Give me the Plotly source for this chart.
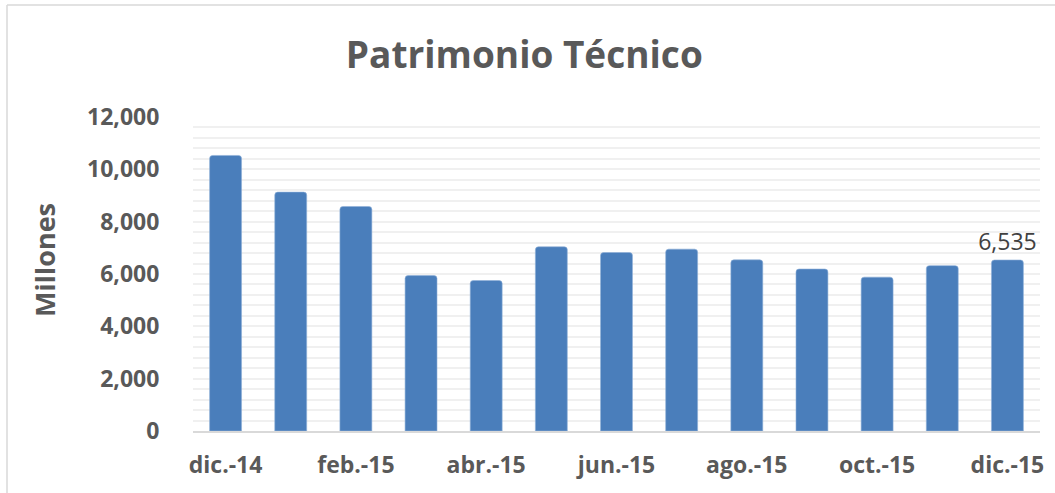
import plotly.graph_objects as go

# Patrimonio Técnico, millones
meses = ["dic.-14", "ene.-15", "feb.-15", "mar.-15", "abr.-15", "may.-15", "jun.-15",
         "jul.-15", "ago.-15", "sep.-15", "oct.-15", "nov.-15", "dic.-15"]
patrimonio = [10530, 9130, 8580, 5940, 5750, 7040, 6820, 6950, 6540, 6190, 5880, 6320, 6535]
meses_visibles = ["dic.-14", "feb.-15", "abr.-15", "jun.-15", "ago.-15", "oct.-15", "dic.-15"]
y_ticks = [0, 2000, 4000, 6000, 8000, 10000, 12000]

gris = "#595959"
fuente = "Open Sans"

W, H = 1055, 493
m_l, m_r, m_t, m_b = 193, 15, 117, 62

etiquetas = [""] * (len(patrimonio) - 1) + [f"{patrimonio[-1]:,}"]

fig = go.Figure()
fig.add_trace(go.Bar(
    x=meses,
    y=patrimonio,
    marker=dict(color="#4a7ebb", line=dict(color="#8fb0d9", width=0.6), cornerradius=3),
    text=etiquetas,
    textposition="outside",
    constraintext="none",
    textfont=dict(family=fuente, size=23, color="#404040"),
    cliponaxis=False,
))

fig.update_layout(
    width=W, height=H,
    margin=dict(l=m_l, r=m_r, t=m_t, b=m_b, autoexpand=False),
    paper_bgcolor="white",
    plot_bgcolor="white",
    showlegend=False,
    bargap=0.51,
    title=dict(text="<b>Patrimonio Técnico</b>", x=0.497, xanchor="center",
               y=1 - 55 / H, yanchor="middle", yref="container",
               font=dict(family=fuente, size=37, color=gris)),
    font=dict(family=fuente, color=gris),
    xaxis=dict(
        tickmode="array", tickvals=meses_visibles, ticktext=[f"<b>{m}</b>" for m in meses_visibles],
        tickfont=dict(family=fuente, size=23, color=gris),
        ticks="outside", ticklen=12, tickcolor="rgba(0,0,0,0)",
        showline=True, linecolor="#d9d9d9", linewidth=2,
        showgrid=False, fixedrange=True, automargin=False,
    ),
    yaxis=dict(
        range=[0, 12000],
        tickmode="array", tickvals=y_ticks, ticktext=[f"<b>{v:,}</b>" for v in y_ticks],
        tickfont=dict(family=fuente, size=23, color=gris),
        ticks="outside", ticklen=28, tickcolor="rgba(0,0,0,0)",
        showgrid=True, gridcolor="#f0f0f0", gridwidth=1.5,
        minor=dict(dtick=400, showgrid=True, gridcolor="#f0f0f0", gridwidth=1.5),
        zeroline=False, showline=False, fixedrange=True, automargin=False,
    ),
    annotations=[dict(
        text="<b>Millones</b>", textangle=-90,
        xref="paper", yref="paper",
        x=(44 - m_l) / (W - m_l - m_r), y=(H - m_b - 260) / (H - m_t - m_b),
        xanchor="center", yanchor="middle", showarrow=False,
        font=dict(family=fuente, size=27, color=gris),
    )],
    shapes=[
        # chart border (top and left edges visible in the crop)
        dict(type="line", xref="paper", yref="paper",
             x0=(7 - m_l) / (W - m_l - m_r), x1=(W + 5 - m_l) / (W - m_l - m_r),
             y0=(H - m_b - 5) / (H - m_t - m_b), y1=(H - m_b - 5) / (H - m_t - m_b),
             line=dict(color="#d9d9d9", width=1.5)),
        dict(type="line", xref="paper", yref="paper",
             x0=(7 - m_l) / (W - m_l - m_r), x1=(7 - m_l) / (W - m_l - m_r),
             y0=(H - m_b - 5) / (H - m_t - m_b), y1=-(m_b + 5) / (H - m_t - m_b),
             line=dict(color="#d9d9d9", width=1.5)),
    ],
)

# the page has a default 8px body margin; drop it so the figure sits at (0, 0)
fig.write_html("out.html", config={"displayModeBar": False},
               post_script="document.body.style.margin='0';")
